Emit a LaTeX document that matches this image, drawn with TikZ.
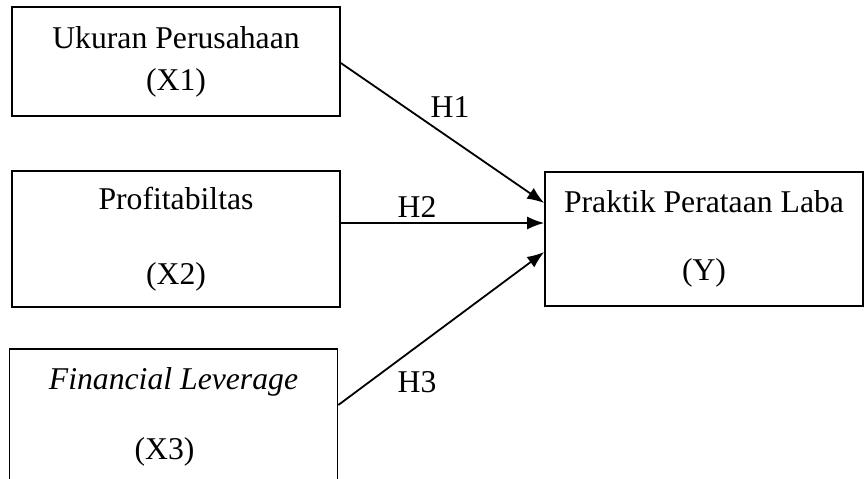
\documentclass[tikz,border=0pt]{standalone}
\usepackage{fontspec}
\setmainfont{Liberation Serif}
\usetikzlibrary{arrows.meta,positioning}
\tikzset{
	var/.style={draw, line width=1.6pt, minimum width=328pt, align=center, inner sep=0pt},
	hyp/.style={-{Latex[length=17pt,width=13pt]}, line width=1.8pt},
	lbl/.style={inner sep=0pt},
}

\begin{document}
\begin{tikzpicture}[x=1pt,y=-1pt,font=\fontsize{31.7}{38}\selectfont]
\useasboundingbox (0,0) rectangle (865,479);
% variables
\node[var, minimum height=109pt] (x1) at (176,61.5) {Ukuran Perusahaan\\[4pt](X1)};
\node[var, minimum height=136pt] (x2) at (176,239) {Profitabiltas\\[37pt](X2)};
\node[var, minimum height=136pt] (x3) at (173.5,417) {\textit{Financial Leverage}\\[32pt]\hspace*{-18pt}(X3)};
\node[var, minimum width=318pt, minimum height=134pt] (y) at (704,239) {Praktik Perataan Laba\\[30pt](Y)};
% hypotheses
\draw[hyp] ([yshift=-1.5pt]x1.east) -- ([yshift=36pt]y.west);
\draw[hyp] ([yshift=16pt]x2.east) -- ([yshift=16pt]y.west);
\draw[hyp] ([yshift=12pt]x3.east) -- ([yshift=-13pt]y.west);
\node[lbl] (h1) at (450,107) {H1};
\node[lbl] (h2) at (417,207) {H2};
\node[lbl] (h3) at (417,382) {H3};
\end{tikzpicture}
\end{document}
